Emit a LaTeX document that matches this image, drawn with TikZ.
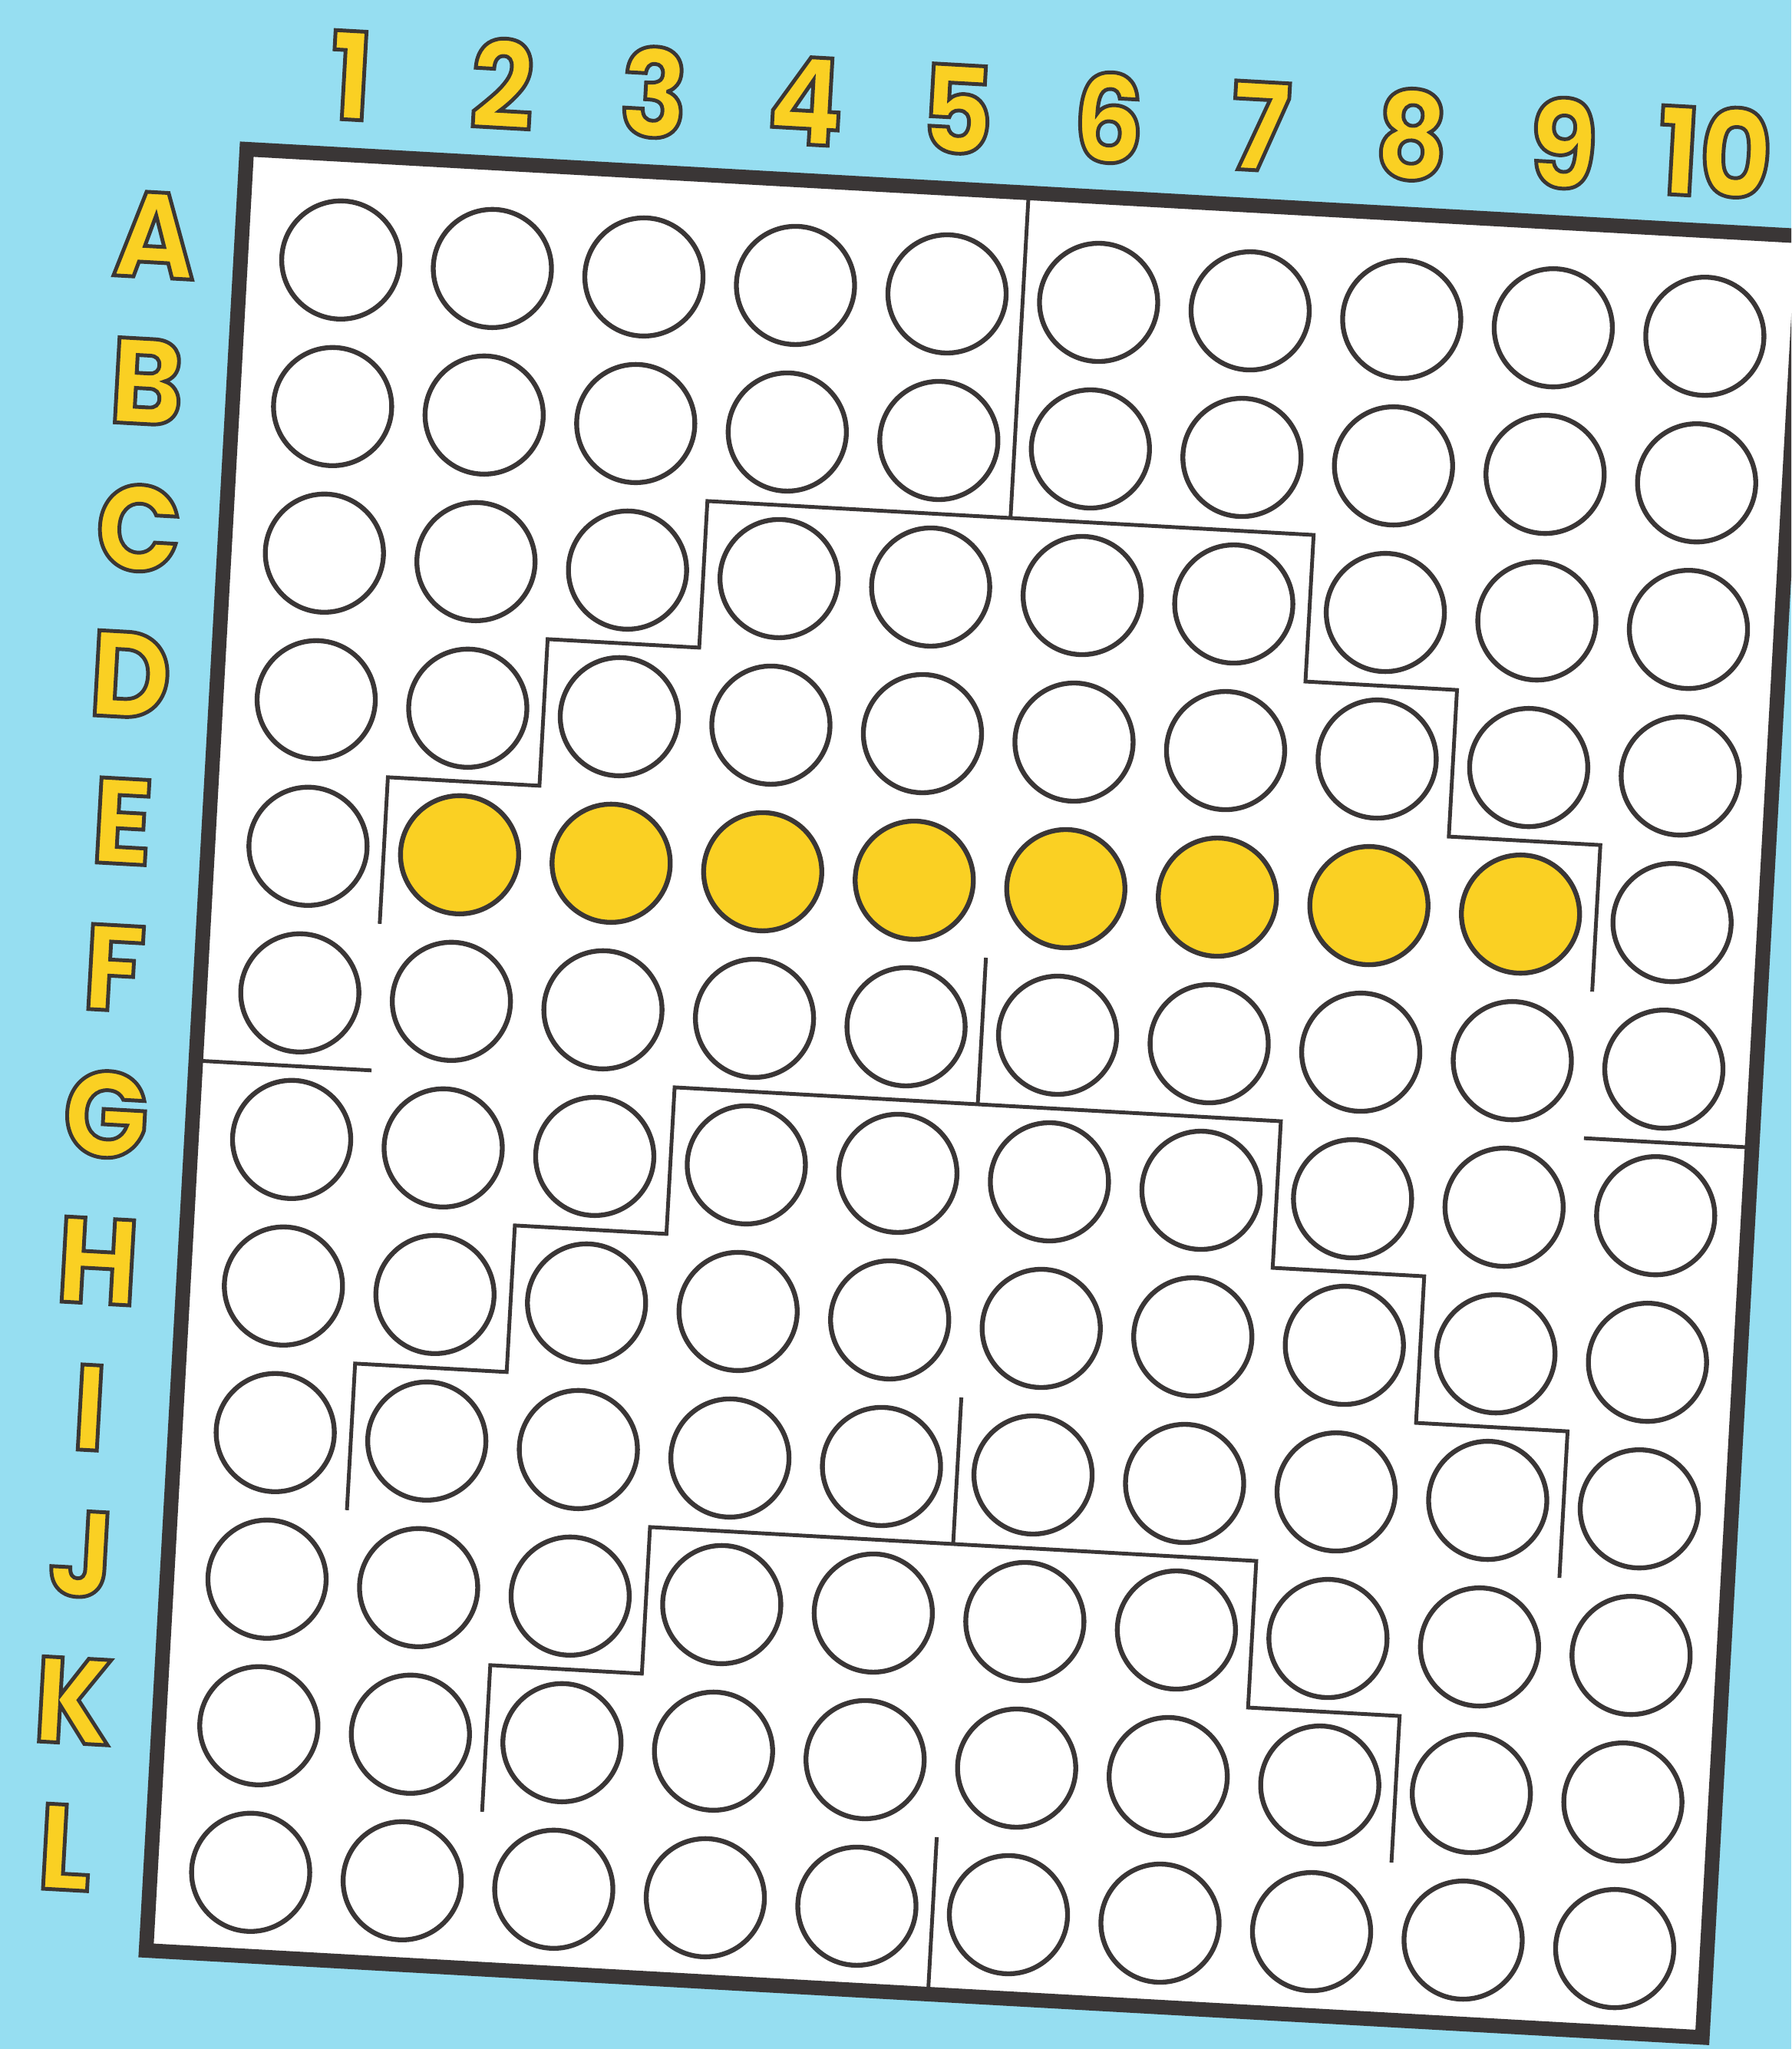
\documentclass[tikz,border=0pt]{standalone}
\usepackage{fontspec}
\usepackage{xcolor}
\usepackage{tikz}
\newfontfamily\labelfont{Poppins}[FakeStretch=0.92]
\definecolor{skyblue}{RGB}{150,222,241}
\definecolor{pegyellow}{RGB}{250,208,35}
\definecolor{inkgray}{RGB}{58,54,54}
% yellow letters with a thin dark rim (fill + stroke text mode)
\newcommand{\outlinetext}[1]{\special{pdf:literal direct 2 Tr 1.4 w 0.23 0.21 0.2 RG}#1\special{pdf:literal direct 0 Tr}}

\begin{document}
\begin{tikzpicture}[
    hole/.style={circle, draw=inkgray, line width=1.8pt, fill=white,
                 minimum size=1.54cm, inner sep=0pt},
    stair/.style={draw=inkgray, line width=1.4pt},
    board/.style={draw=inkgray, fill=white, line width=5.4pt},
    gridlabel/.style={text=pegyellow, inner sep=0pt, transform shape,
                      font=\labelfont\bfseries\fontsize{45}{45}\selectfont}
  ]
  \useasboundingbox (0,0) rectangle (23.34,26.70);
  \fill[skyblue] (0,0) rectangle (23.34,26.70);
  \clip (0,0) rectangle (23.34,26.70);
  \begin{scope}[shift={(12.74,12.31)}, rotate=-3.2]
  \begin{scope}[xshift=-9.89cm, yshift=11.478cm, x=1.978cm, y=-1.913cm]
    % board
    \draw[board] (-0.159,-0.218) rectangle (10.109,12.071);

    % pegs, row E holds the yellow ones
    \foreach \rowname [count=\rowno] in {A,...,L}
      \foreach \colno in {1,...,10} {
        \def\pegfill{white}
        \ifnum\rowno=5 \ifnum\colno>1 \ifnum\colno<10 \def\pegfill{pegyellow}\fi\fi\fi
        \node[hole, fill=\pegfill] (\rowname\colno) at (\colno-0.5,\rowno-0.5) {};
      }

    % walls
    \draw[stair] (5,-0.2) -- (5,2);
    \draw[stair] (5,5) -- (5,6);
    \draw[stair] (5,8) -- (5,9);
    \draw[stair] (5,11) -- (5,12.1);
    \foreach \o in {0,4}
      \draw[stair] (1,5+\o) |- (2,4+\o) |- (3,3+\o) |- (7,2+\o) |- (8,3+\o) |- (9,4+\o) -- (9,5+\o);
    \draw[stair] (2,11) |- (3,10) |- (7,9) |- (8,10) -- (8,11);
    \draw[stair] (-0.16,6) -- (1,6);
    \draw[stair] (9,6) -- (10.11,6);

    % labels
    \foreach \colno in {1,...,10}
      \node[gridlabel] (num\colno) at (\colno-0.5,-0.76) {\outlinetext{\colno}};
    \foreach \rowname [count=\rowno] in {A,...,L}
      \node[gridlabel] (let\rowname) at (-0.73,\rowno-0.6) {\outlinetext{\rowname}};
  \end{scope}
  \end{scope}
\end{tikzpicture}
\end{document}
